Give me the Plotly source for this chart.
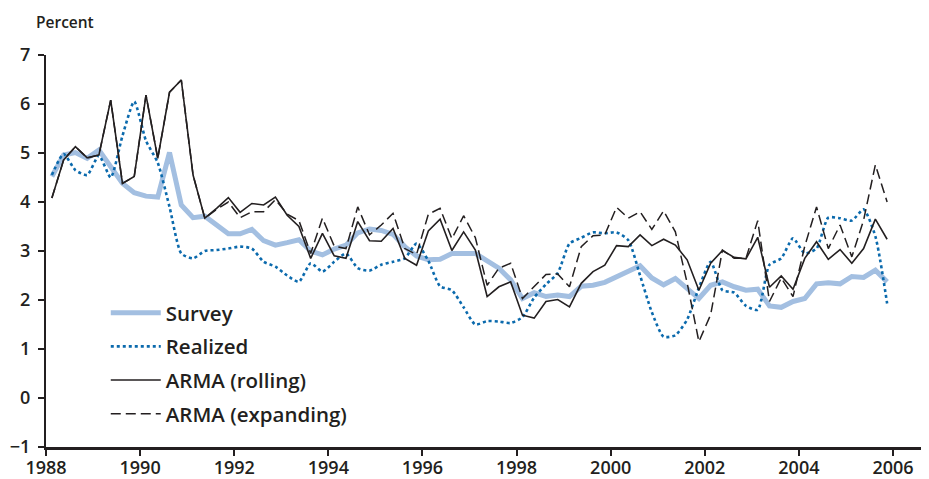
import plotly.graph_objects as go

# Quarterly observations 1988Q1 - 2005Q4 (plotted at mid-quarter)
start_year = 1988
n_quarters = 72
quarters = [start_year + 0.125 + 0.25 * i for i in range(n_quarters)]

survey = [4.52, 4.96, 5.01, 4.89, 5.06, 4.72, 4.38, 4.19, 4.12, 4.10, 5.01, 3.94,
          3.68, 3.71, 3.53, 3.35, 3.35, 3.44, 3.21, 3.12, 3.17, 3.23, 3.00, 2.92,
          3.04, 3.12, 3.37, 3.45, 3.42, 3.34, 3.09, 2.90, 2.82, 2.83, 2.95, 2.96,
          2.95, 2.80, 2.65, 2.41, 2.03, 2.15, 2.07, 2.10, 2.07, 2.28, 2.30, 2.36,
          2.48, 2.60, 2.70, 2.45, 2.31, 2.44, 2.24, 2.03, 2.30, 2.37, 2.27, 2.20,
          2.22, 1.88, 1.85, 1.97, 2.03, 2.33, 2.35, 2.33, 2.48, 2.46, 2.61, 2.37]

realized = [4.55, 4.98, 4.65, 4.55, 4.95, 4.50, 5.35, 6.05, 5.25, 4.80, 3.90, 2.95,
            2.85, 3.00, 3.02, 3.05, 3.09, 3.05, 2.78, 2.68, 2.50, 2.37, 2.75, 2.58,
            2.78, 2.95, 2.65, 2.60, 2.72, 2.78, 2.85, 3.15, 2.80, 2.28, 2.20, 1.85,
            1.50, 1.57, 1.56, 1.53, 1.65, 2.05, 2.32, 2.55, 3.15, 3.27, 3.38, 3.36,
            3.38, 3.22, 2.50, 1.75, 1.25, 1.28, 1.60, 2.25, 2.78, 2.20, 2.15, 1.88,
            1.80, 2.72, 2.85, 3.26, 2.95, 3.05, 3.68, 3.67, 3.62, 3.85, 3.30, 1.93]

arma_rolling = [4.08, 4.86, 5.13, 4.90, 4.96, 6.08, 4.38, 4.52, 6.18, 4.89, 6.24, 6.49,
                4.55, 3.67, 3.87, 4.09, 3.79, 3.97, 3.94, 4.10, 3.73, 3.50, 2.85, 3.36,
                2.90, 2.85, 3.60, 3.21, 3.20, 3.46, 2.85, 2.71, 3.41, 3.65, 3.01, 3.39,
                3.02, 2.07, 2.27, 2.37, 1.69, 1.63, 1.97, 2.01, 1.86, 2.34, 2.58, 2.71,
                3.11, 3.09, 3.33, 3.11, 3.24, 3.12, 2.82, 2.20, 2.75, 3.01, 2.87, 2.84,
                3.28, 2.26, 2.49, 2.22, 2.85, 3.19, 2.83, 3.03, 2.75, 3.05, 3.65, 3.24]

arma_expanding = [4.08, 4.86, 5.13, 4.90, 4.96, 6.08, 4.38, 4.52, 6.18, 4.89, 6.24, 6.49,
                  4.55, 3.67, 3.85, 4.00, 3.68, 3.80, 3.80, 4.05, 3.75, 3.62, 2.95, 3.67,
                  3.10, 3.05, 3.90, 3.33, 3.53, 3.77, 3.05, 2.93, 3.75, 3.87, 3.25, 3.72,
                  3.27, 2.30, 2.65, 2.75, 2.03, 2.27, 2.52, 2.53, 2.27, 3.09, 3.31, 3.33,
                  3.89, 3.67, 3.80, 3.44, 3.82, 3.39, 2.35, 1.15, 1.70, 3.02, 2.85, 2.85,
                  3.62, 1.97, 2.45, 2.07, 3.10, 3.90, 3.05, 3.53, 2.88, 3.63, 4.76, 4.00]

x_tick_vals = [1988, 1990, 1992, 1994, 1996, 1998, 2000, 2002, 2004, 2006]
x_tick_text = ["1988", "1990", "1992", "1994", "1996", "1998", "2000", "2002", "2004", "2006"]
y_tick_vals = [-1, 0, 1, 2, 3, 4, 5, 6, 7]
y_tick_text = ["\u22121", "0", "1", "2", "3", "4", "5", "6", "7"]

FONT = "Open Sans"
INK = "#231f20"

fig = go.Figure()
fig.add_trace(go.Scatter(x=quarters, y=survey, mode="lines", name="Survey",
                         legendgroup="a",
                         line=dict(color="#a3bfe1", width=5)))
fig.add_trace(go.Scatter(x=quarters, y=realized, mode="lines", name="Realized",
                         legendgroup="b",
                         line=dict(color="#0b6aad", width=2.6, dash="dot",
                                   shape="spline", smoothing=0.6)))
fig.add_trace(go.Scatter(x=quarters, y=arma_rolling, mode="lines", name="ARMA (rolling)",
                         legendgroup="c",
                         line=dict(color=INK, width=1.6)))
fig.add_trace(go.Scatter(x=quarters, y=arma_expanding, mode="lines", name="ARMA (expanding)",
                         legendgroup="d",
                         line=dict(color=INK, width=1.5, dash="10px,5px")))

# the page body adds an 8px offset, so the figure is sized to fill the rest of the window
fig.update_layout(
    width=921, height=471,
    margin=dict(l=38, r=4, t=47, b=32),
    paper_bgcolor="white", plot_bgcolor="white",
    font=dict(family=FONT, size=17, color=INK, weight=600),
    showlegend=True,
    legend=dict(x=0.068, y=0.393, xanchor="left", yanchor="top",
                bgcolor="rgba(0,0,0,0)", traceorder="grouped",
                tracegroupgap=4, itemwidth=50,
                font=dict(family=FONT, size=20.5, color=INK, weight=600)),
    annotations=[dict(text="Percent", xref="paper", yref="paper",
                      x=-0.014, y=1.085, xanchor="left", yanchor="middle",
                      showarrow=False,
                      font=dict(family=FONT, size=15.5, color=INK, weight=600))],
)
fig.update_xaxes(range=[1988, 2006.68], tickvals=x_tick_vals, ticktext=x_tick_text,
                 automargin=False, ticklabelstandoff=-4,
                 showgrid=False, zeroline=False, showline=True, linecolor=INK,
                 linewidth=3, ticks="outside", ticklen=6, tickwidth=2, tickcolor=INK,
                 tickfont=dict(family=FONT, size=18, color=INK, weight=600))
fig.update_yaxes(range=[-1, 7], tickvals=y_tick_vals, ticktext=y_tick_text,
                 automargin=False,
                 showgrid=False, zeroline=False, showline=True, linecolor=INK,
                 linewidth=2, ticks="outside", ticklen=6, tickwidth=2, tickcolor=INK,
                 ticklabelstandoff=4,
                 tickfont=dict(family=FONT, size=18, color=INK, weight=600))

fig.write_html("out.html")
